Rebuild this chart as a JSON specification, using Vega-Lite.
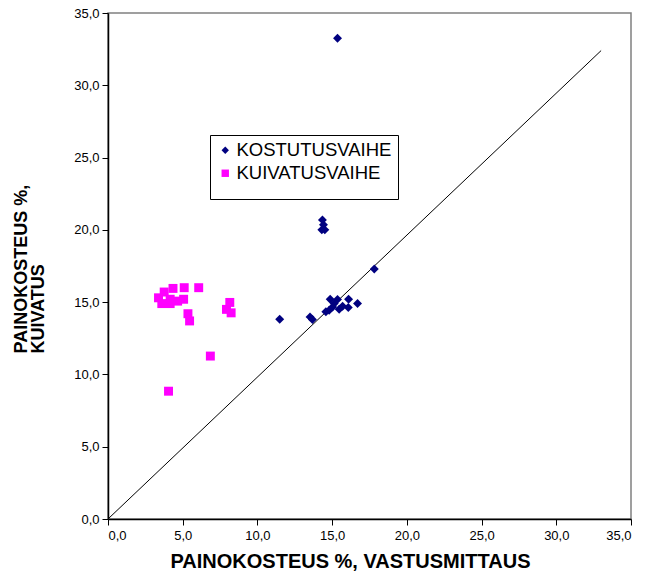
{
  "$schema": "https://vega.github.io/schema/vega-lite/v6.json",
  "autosize": {"type": "none"},
  "width": 523,
  "height": 506,
  "padding": {"left": 108, "top": 13, "right": 18, "bottom": 56},
  "background": "white",
  "config": {
    "font": "Liberation Sans",
    "view": {"stroke": "#808080", "strokeWidth": 1.5}
  },
  "datasets": {
    "pts": [
      {"vastus": 4.35, "kuivatus": 15.95, "vaihe": "KUIVATUSVAIHE"},
      {"vastus": 5.1, "kuivatus": 16.0, "vaihe": "KUIVATUSVAIHE"},
      {"vastus": 6.07, "kuivatus": 16.0, "vaihe": "KUIVATUSVAIHE"},
      {"vastus": 3.76, "kuivatus": 15.7, "vaihe": "KUIVATUSVAIHE"},
      {"vastus": 3.38, "kuivatus": 15.3, "vaihe": "KUIVATUSVAIHE"},
      {"vastus": 4.16, "kuivatus": 15.2, "vaihe": "KUIVATUSVAIHE"},
      {"vastus": 5.06, "kuivatus": 15.2, "vaihe": "KUIVATUSVAIHE"},
      {"vastus": 3.6, "kuivatus": 14.9, "vaihe": "KUIVATUSVAIHE"},
      {"vastus": 4.16, "kuivatus": 14.9, "vaihe": "KUIVATUSVAIHE"},
      {"vastus": 4.66, "kuivatus": 15.07, "vaihe": "KUIVATUSVAIHE"},
      {"vastus": 8.15, "kuivatus": 14.98, "vaihe": "KUIVATUSVAIHE"},
      {"vastus": 7.93, "kuivatus": 14.5, "vaihe": "KUIVATUSVAIHE"},
      {"vastus": 8.24, "kuivatus": 14.26, "vaihe": "KUIVATUSVAIHE"},
      {"vastus": 5.35, "kuivatus": 14.2, "vaihe": "KUIVATUSVAIHE"},
      {"vastus": 5.46, "kuivatus": 13.7, "vaihe": "KUIVATUSVAIHE"},
      {"vastus": 6.85, "kuivatus": 11.27, "vaihe": "KUIVATUSVAIHE"},
      {"vastus": 4.05, "kuivatus": 8.84, "vaihe": "KUIVATUSVAIHE"},
      {"vastus": 15.36, "kuivatus": 33.26, "vaihe": "KOSTUTUSVAIHE"},
      {"vastus": 14.35, "kuivatus": 20.69, "vaihe": "KOSTUTUSVAIHE"},
      {"vastus": 14.42, "kuivatus": 20.35, "vaihe": "KOSTUTUSVAIHE"},
      {"vastus": 14.31, "kuivatus": 20.0, "vaihe": "KOSTUTUSVAIHE"},
      {"vastus": 14.51, "kuivatus": 20.0, "vaihe": "KOSTUTUSVAIHE"},
      {"vastus": 17.82, "kuivatus": 17.29, "vaihe": "KOSTUTUSVAIHE"},
      {"vastus": 14.87, "kuivatus": 15.2, "vaihe": "KOSTUTUSVAIHE"},
      {"vastus": 15.36, "kuivatus": 15.19, "vaihe": "KOSTUTUSVAIHE"},
      {"vastus": 16.1, "kuivatus": 15.2, "vaihe": "KOSTUTUSVAIHE"},
      {"vastus": 16.7, "kuivatus": 14.9, "vaihe": "KOSTUTUSVAIHE"},
      {"vastus": 15.14, "kuivatus": 14.9, "vaihe": "KOSTUTUSVAIHE"},
      {"vastus": 15.03, "kuivatus": 14.67, "vaihe": "KOSTUTUSVAIHE"},
      {"vastus": 14.58, "kuivatus": 14.33, "vaihe": "KOSTUTUSVAIHE"},
      {"vastus": 14.8, "kuivatus": 14.44, "vaihe": "KOSTUTUSVAIHE"},
      {"vastus": 15.47, "kuivatus": 14.51, "vaihe": "KOSTUTUSVAIHE"},
      {"vastus": 15.7, "kuivatus": 14.72, "vaihe": "KOSTUTUSVAIHE"},
      {"vastus": 16.08, "kuivatus": 14.63, "vaihe": "KOSTUTUSVAIHE"},
      {"vastus": 13.52, "kuivatus": 13.98, "vaihe": "KOSTUTUSVAIHE"},
      {"vastus": 13.68, "kuivatus": 13.8, "vaihe": "KOSTUTUSVAIHE"},
      {"vastus": 11.49, "kuivatus": 13.82, "vaihe": "KOSTUTUSVAIHE"}
    ],
    "diag": [
      {"vastus": 0, "kuivatus": 0},
      {"vastus": 33, "kuivatus": 32.4}
    ]
  },
  "layer": [
    {
      "data": {"name": "diag"},
      "mark": {"type": "line", "color": "black", "strokeWidth": 1},
      "encoding": {
        "x": {"field": "vastus", "type": "quantitative", "scale": {"domain": [0, 35], "nice": false}},
        "y": {"field": "kuivatus", "type": "quantitative", "scale": {"domain": [0, 35], "nice": false}}
      }
    },
    {
      "data": {"name": "pts"},
      "mark": {"type": "point", "filled": true, "opacity": 1, "size": 80},
      "encoding": {
        "x": {
          "field": "vastus", "type": "quantitative",
          "scale": {"domain": [0, 35], "nice": false},
          "axis": {
            "values": [0, 5, 10, 15, 20, 25, 30, 35],
            "labelExpr": "replace(format(datum.value, '.1f'), '.', ',')",
            "grid": false,
            "domainColor": "black", "domainWidth": 1.5,
            "tickColor": "black", "tickSize": 6,
            "labelFontSize": 13, "labelColor": "black", "labelPadding": 4,
            "title": "PAINOKOSTEUS %, VASTUSMITTAUS",
            "titleFontSize": 20, "titleFontWeight": "bold", "titleColor": "black",
            "titleX": 242, "titleY": 32, "titleBaseline": "top"
          }
        },
        "y": {
          "field": "kuivatus", "type": "quantitative",
          "scale": {"domain": [0, 35], "nice": false},
          "axis": {
            "values": [0, 5, 10, 15, 20, 25, 30, 35],
            "labelExpr": "replace(format(datum.value, '.1f'), '.', ',')",
            "grid": false,
            "domainColor": "black", "domainWidth": 1.5,
            "tickColor": "black", "tickSize": 6,
            "labelFontSize": 13, "labelColor": "black", "labelPadding": 3,
            "title": ["PAINOKOSTEUS %,", "KUIVATUS"],
            "titleFontSize": 18, "titleFontWeight": "bold", "titleColor": "black",
            "titleAngle": -90, "titleX": -96, "titleY": 340, "titleBaseline": "top",
            "titleAlign": "left", "titleLineHeight": 17
          }
        },
        "color": {
          "field": "vaihe", "type": "nominal",
          "scale": {"domain": ["KOSTUTUSVAIHE", "KUIVATUSVAIHE"], "range": ["#000080", "#FF00FF"]},
          "legend": {
            "title": " ", "titleOrient": "bottom", "titleFontSize": 8, "titlePadding": 2,
            "orient": "none", "legendX": 102, "legendY": 122,
            "strokeColor": "black", "fillColor": "white",
            "padding": 6, "labelFontSize": 18.5, "labelColor": "black",
            "symbolSize": 55, "labelOffset": 2, "rowPadding": 4,
            "symbolOpacity": 1
          }
        },
        "shape": {
          "field": "vaihe", "type": "nominal",
          "scale": {"domain": ["KOSTUTUSVAIHE", "KUIVATUSVAIHE"], "range": ["diamond", "square"]}
        }
      }
    }
  ]
}
